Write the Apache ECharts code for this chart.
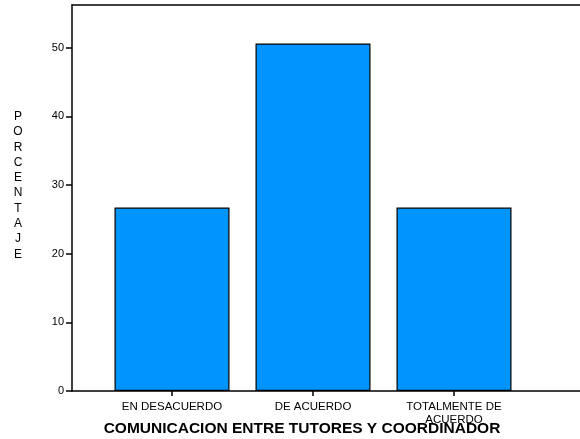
<!DOCTYPE html>
<html><head><meta charset="utf-8">
<script src="https://cdn.jsdelivr.net/npm/echarts@6/dist/echarts.min.js"></script>
<style>html,body{margin:0;padding:0;background:#fff}#c{width:580px;height:439px}</style>
</head><body><div id="c"></div>
<script>
const categories = ['EN DESACUERDO', 'DE ACUERDO', 'TOTALMENTE DE\nACUERDO'];
const values = [26.7, 50.6, 26.7];
const yTicks = [0, 10, 20, 30, 40, 50];
const yMax = 56.2;
const axisTitle = 'PORCENTAJE';
const chartTitle = 'COMUNICACION ENTRE TUTORES Y COORDINADOR';

const font = 'Liberation Sans, Arial, sans-serif';
const chart = echarts.init(document.getElementById('c'));
chart.setOption({
  animation: false,
  title: [{
    text: chartTitle, left: 297, top: 416, textAlign: 'center',
    textStyle: {fontFamily: font, fontSize: 15.5, fontWeight: 'bold', color: '#000'}
  }, {
    text: axisTitle.split('').join('\n'), left: 13, top: 104, textAlign: 'center',
    textStyle: {fontFamily: font, fontSize: 12, fontWeight: 'normal', color: '#000', lineHeight: 15.3}
  }],
  grid: [
    {left: 72, right: 0, top: 5, bottom: 48},
    {left: 101.5, width: 423, top: 5, bottom: 48}
  ],
  xAxis: [
    {type: 'value', gridIndex: 0, min: 0, max: 1, position: 'bottom',
     axisLine: {lineStyle: {color: '#000', width: 1.5}}, axisTick: {show: false},
     axisLabel: {show: false}, splitLine: {show: false}},
    {type: 'value', gridIndex: 0, min: 0, max: 1, position: 'top',
     axisLine: {lineStyle: {color: '#000', width: 1.5}}, axisTick: {show: false},
     axisLabel: {show: false}, splitLine: {show: false}},
    {type: 'category', gridIndex: 1, data: categories, position: 'bottom',
     axisLine: {show: false},
     axisTick: {show: true, alignWithLabel: true, inside: false, length: 5, lineStyle: {color: '#000', width: 1.5}},
     axisLabel: {fontFamily: font, fontSize: 11.5, color: '#000', margin: 9, lineHeight: 13, interval: 0}}
  ],
  yAxis: [
    {type: 'value', gridIndex: 0, min: 0, max: yMax,
     axisLine: {show: true, lineStyle: {color: '#000', width: 1.5}},
     axisTick: {show: true, length: 6, customValues: yTicks, lineStyle: {color: '#000', width: 1.5}},
     axisLabel: {customValues: yTicks, fontFamily: font, fontSize: 11, color: '#000', margin: 8},
     splitLine: {show: false}},
    {type: 'value', gridIndex: 1, min: 0, max: yMax, show: false}
  ],
  series: [{
    type: 'bar', xAxisIndex: 2, yAxisIndex: 1, data: values, barWidth: 115,
    itemStyle: {color: '#0094FF', borderColor: '#000', borderWidth: 1.2}
  }]
});
</script></body></html>
